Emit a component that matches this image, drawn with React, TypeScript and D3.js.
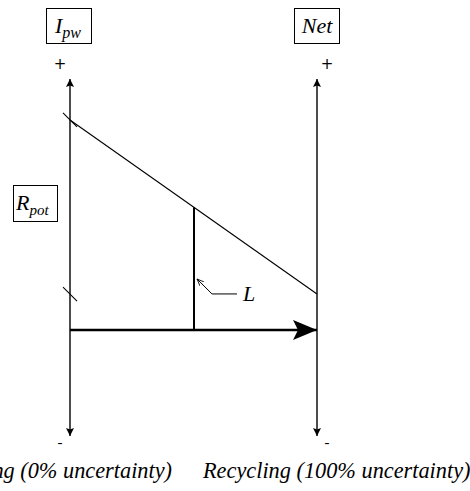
import React from "react";
import * as d3 from "d3";

// Conceptual diagram data
const axisPositions = [0, 1]; // 0 = left axis, 1 = right axis
const axisLabels = ["Recycling (0% uncertainty)", "Recycling (100% uncertainty)"];
const axisRange = [-0.505, 1.195]; // bottom, top (arrow tips)
const iPwValue = 1.0; // left axis value
const netValue = 0.171; // right axis value
const lossAt = 0.502; // x position of the L line
const baseValue = 0; // horizontal arrow level

const W = 470;
const H = 491;

export default function App() {
  const x = d3.scaleLinear().domain([0, 1]).range([70, 317]);
  const y = d3.scaleLinear().domain(axisRange).range([436, 79]);
  const diag = d3.scaleLinear().domain([0, 1]).range([iPwValue, netValue]);
  const line = d3.line<[number, number]>().x((d) => x(d[0])).y((d) => y(d[1]));

  const font = "'Liberation Serif', 'Times New Roman', serif";
  const tick = (cx: number, cy: number) => (
    <line x1={cx - 7} y1={cy - 7} x2={cx + 7} y2={cy + 7} stroke="#000" strokeWidth={1.1} />
  );

  return (
    <svg
      width={W}
      height={H}
      style={{ position: "absolute", left: 0, top: 0, background: "#fff" }}
      fontFamily={font}
    >
      <defs>
        <marker id="ah" viewBox="0 0 10 10" refX="10" refY="5" markerWidth="8" markerHeight="11" markerUnits="userSpaceOnUse" orient="auto">
          <path d="M0,0 L10,5 L0,10 L2,5 Z" fill="#000" />
        </marker>
        <marker id="big" viewBox="0 0 24 20" refX="24" refY="10" markerWidth="24" markerHeight="20" markerUnits="userSpaceOnUse" orient="auto">
          <path d="M0,0 L24,10 L0,20 L5,10 Z" fill="#000" />
        </marker>
        <marker id="sm" viewBox="0 0 10 10" refX="10" refY="5" markerWidth="7" markerHeight="7" markerUnits="userSpaceOnUse" orient="auto">
          <path d="M0,1 L10,5 L0,9" fill="none" stroke="#000" strokeWidth={1.2} />
        </marker>
      </defs>

      {/* vertical axes */}
      {axisPositions.map((p, i) => {
        const mid = y(baseValue);
        return (
          <g key={i}>
            <line x1={x(p)} x2={x(p)} y1={mid} y2={y(axisRange[1])} stroke="#000" strokeWidth={1.4} markerEnd="url(#ah)" />
            <line x1={x(p)} x2={x(p)} y1={mid} y2={y(axisRange[0])} stroke="#000" strokeWidth={1.4} markerEnd="url(#ah)" />
            <text x={x(p) + (i === 0 ? -10 : 10)} y={y(axisRange[1]) - 10} fontSize={15} textAnchor="middle" fontFamily="'DejaVu Sans', sans-serif">+</text>
            <text x={x(p) + (i === 0 ? -10 : 10)} y={y(axisRange[0]) + 11} fontSize={15} textAnchor="middle" fontStyle="italic">-</text>
          </g>
        );
      })}

      {/* diagonal */}
      <path d={line([[0, iPwValue], [1, netValue]]) || ""} fill="none" stroke="#000" strokeWidth={1.1} />
      {tick(x(0), y(iPwValue))}
      {tick(x(0), y(netValue))}

      {/* L line */}
      <line x1={x(lossAt)} x2={x(lossAt)} y1={y(baseValue)} y2={y(diag(lossAt))} stroke="#000" strokeWidth={2} />
      <path d={`M${x(lossAt) + 43},${y(baseValue) - 36} L${x(lossAt) + 18},${y(baseValue) - 36} L${x(lossAt) + 3},${y(baseValue) - 51}`} fill="none" stroke="#000" strokeWidth={1} markerEnd="url(#sm)" />
      <text x={x(lossAt) + 49} y={y(baseValue) - 29} fontSize={22} fontStyle="italic">L</text>

      {/* horizontal thick arrow */}
      <line x1={x(0)} x2={x(1)} y1={y(baseValue)} y2={y(baseValue)} stroke="#000" strokeWidth={2.6} markerEnd="url(#big)" />

      {/* boxed labels */}
      <rect x={46.5} y={8.5} width={45} height={35} fill="none" stroke="#000" strokeWidth={1} />
      <text x={55} y={33} fontSize={22} fontStyle="italic">I<tspan fontSize={16} dy={5}>pw</tspan></text>

      <rect x={294.5} y={8.5} width={45} height={35} fill="none" stroke="#000" strokeWidth={1} />
      <text x={317} y={33} fontSize={22} fontStyle="italic" textAnchor="middle">Net</text>

      <rect x={13.5} y={185.5} width={44} height={36} fill="none" stroke="#000" strokeWidth={1} />
      <text x={16} y={210} fontSize={22} fontStyle="italic">R<tspan fontSize={15} dy={5}>pot</tspan></text>

      {/* bottom labels */}
      <text x={172} y={478} fontSize={22.3} fontStyle="italic" textAnchor="end">{axisLabels[0]}</text>
      <text x={203} y={478} fontSize={22.3} fontStyle="italic" textAnchor="start">{axisLabels[1]}</text>
    </svg>
  );
}
